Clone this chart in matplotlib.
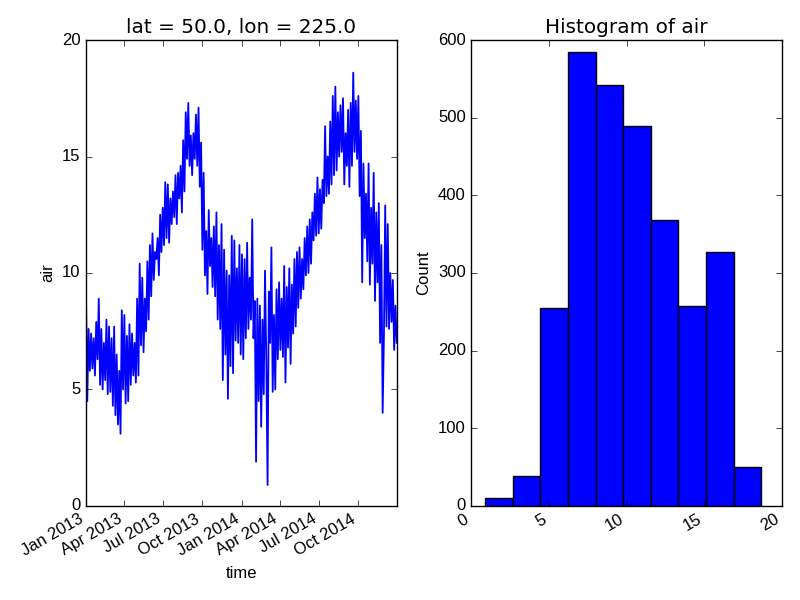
#!/usr/bin/env python3
import pandas as pd
import matplotlib
matplotlib.use("Agg")
import matplotlib.pyplot as plt
import matplotlib.dates as mdates

# air temperature, one value every 3 days
air = [
    9.0, 4.5, 7.6, 5.8, 7.4, 5.9, 7.2, 5.6, 7.9, 6.3, 8.9,
    5.2, 7.6, 5.0, 7.0, 5.4, 8.0, 4.8, 7.7, 4.9, 7.2,
    4.3, 7.7, 3.9, 6.5, 3.5, 5.8, 3.1, 8.4, 5.0, 8.2,
    4.4, 7.3, 4.5, 7.8, 5.2, 7.4, 5.6, 7.0, 5.3, 8.9,
    5.6, 10.4, 6.9, 9.8, 6.6, 8.9, 7.5, 10.5, 8.0, 11.2,
    9.0, 11.7, 9.7, 10.9, 10.6, 11.5, 9.9, 12.5, 10.9, 12.8,
    11.2, 13.9, 11.5, 13.8, 11.3, 13.2, 12.1, 13.5, 12.4, 14.2,
    12.1, 14.3, 13.2, 14.6, 12.6, 15.7, 13.5, 16.9, 14.9, 17.3,
    14.6, 15.9, 14.2, 16.0, 14.9, 16.8, 14.6, 17.1, 13.7, 15.6,
    11.0, 14.3, 9.9, 11.8, 9.1, 12.7, 10.3, 11.5, 9.4, 12.0,
    9.0, 12.6, 8.0, 11.2, 7.6, 12.1, 5.4, 11.0, 6.5, 10.1,
    4.6, 9.9, 6.0, 11.6, 5.7, 11.4, 7.1, 10.2, 7.0, 11.2,
    6.5, 10.8, 6.3, 10.6, 7.2, 11.3, 7.6, 9.8, 8.0, 12.3,
    7.2, 8.8, 1.9, 8.9, 4.5, 8.6, 3.4, 8.0, 4.8, 10.1,
    6.3, 0.9, 9.2, 7.0, 11.1, 4.9, 8.2, 5.0, 9.3, 6.3,
    9.6, 6.7, 8.9, 6.4, 10.3, 5.3, 9.4, 6.8, 10.2, 6.1,
    9.5, 7.4, 10.6, 7.7, 10.9, 8.5, 11.1, 8.9, 10.6, 9.3,
    11.5, 9.9, 12.0, 10.0, 12.3, 10.4, 12.6, 11.4, 13.4, 11.6,
    14.1, 11.7, 13.6, 11.9, 14.0, 13.0, 16.3, 13.3, 15.0, 13.4,
    16.5, 13.8, 17.6, 14.2, 18.0, 14.4, 16.9, 15.0, 17.2, 15.2,
    17.5, 13.8, 16.0, 14.6, 17.0, 13.7, 17.3, 14.6, 18.6, 15.2,
    17.4, 14.9, 17.6, 13.3, 16.1, 9.6, 14.7, 11.5, 13.4, 10.5,
    14.7, 9.5, 12.8, 10.4, 14.3, 8.8, 12.6, 9.6, 13.0, 7.0,
    11.2, 4.0, 7.3, 12.9, 7.7, 12.1, 7.6, 10.0, 7.9, 9.7, 6.7, 8.6, 7.0,
]
time = pd.date_range("2013-01-01", periods=len(air), freq="3D")

# histogram
bin_edges = [0.9, 2.68, 4.45, 6.23, 8.0, 9.78, 11.55, 13.33, 15.1, 16.88, 18.65]
counts = [10, 38, 255, 584, 542, 489, 368, 258, 327, 50]

date_ticks = ["2013-01-01", "2013-04-01", "2013-07-01", "2013-10-01",
              "2014-01-01", "2014-04-01", "2014-07-01", "2014-10-01"]

plt.style.use("classic")
plt.rcParams["font.family"] = ["Liberation Sans", "DejaVu Sans"]

fig, (ax1, ax2) = plt.subplots(1, 2, figsize=(8, 6), dpi=100)
fig.subplots_adjust(left=0.1075, right=0.9775, top=0.9333, bottom=0.1567, wspace=0.24)

ax1.plot(time, air, color="b", linewidth=1.3)
ax1.set_xlim(pd.Timestamp("2013-01-01"), pd.Timestamp("2014-12-31"))
ax1.set_ylim(0, 20)
ax1.set_yticks([0, 5, 10, 15, 20])
ax1.set_xticks(pd.to_datetime(date_ticks))
ax1.xaxis.set_major_formatter(mdates.DateFormatter("%b %Y"))
ax1.set_xlabel("time")
ax1.set_ylabel("air")
ax1.set_title("lat = 50.0, lon = 225.0", family="DejaVu Sans")
for label in ax1.get_xticklabels():
    label.set_rotation(30)
    label.set_ha("right")

widths = [b - a for a, b in zip(bin_edges[:-1], bin_edges[1:])]
ax2.bar(bin_edges[:-1], counts, width=widths, align="edge", color="b", edgecolor="k")
ax2.set_xlim(0, 20)
ax2.set_ylim(0, 600)
ax2.set_xticks([0, 5, 10, 15, 20])
ax2.set_ylabel("Count")
ax2.set_title("Histogram of air", family="DejaVu Sans")
for label in ax2.get_xticklabels():
    label.set_rotation(30)
    label.set_ha("right")

fig.savefig("out.png", dpi=100)
